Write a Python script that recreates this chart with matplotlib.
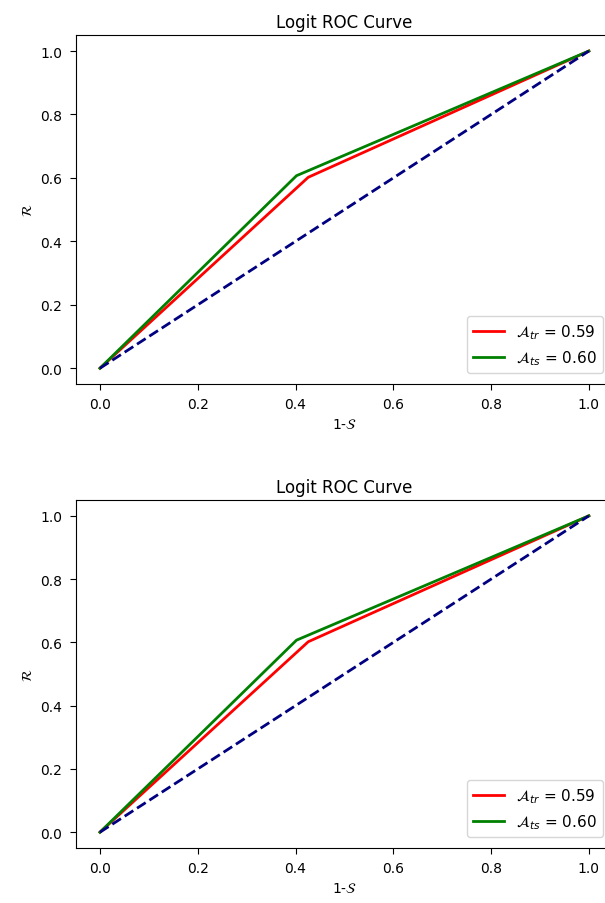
import numpy as np
import matplotlib
matplotlib.use("Agg")
import matplotlib.pyplot as plt

# ROC points (false positive rate, true positive rate) for train and test sets
fpr_train = [0.0, 0.426, 1.0]
tpr_train = [0.0, 0.602, 1.0]
fpr_test = [0.0, 0.402, 1.0]
tpr_test = [0.0, 0.607, 1.0]
chance = [0.0, 1.0]

ticks = [0.0, 0.2, 0.4, 0.6, 0.8, 1.0]


def auc(x, y):
    x = np.asarray(x)
    y = np.asarray(y)
    return float(np.sum((x[1:] - x[:-1]) * (y[1:] + y[:-1]) / 2))


plt.rcParams["xtick.major.size"] = 4
plt.rcParams["ytick.major.size"] = 4
plt.rcParams["xtick.major.pad"] = 5.5
plt.rcParams["ytick.major.pad"] = 5.5

fig = plt.figure(figsize=(6.05, 9.04), dpi=100)
positions = [
    [0.1248, 0.574, 0.889, 0.386],
    [0.1248, 0.0608, 0.889, 0.385],
]

for pos in positions:
    ax = fig.add_axes(pos)
    ax.plot(fpr_train, tpr_train, color="red", lw=2,
            label=r"$\mathcal{A}_{tr}$ = %0.2f" % auc(fpr_train, tpr_train))
    ax.plot(fpr_test, tpr_test, color="green", lw=2,
            label=r"$\mathcal{A}_{ts}$ = %0.2f" % auc(fpr_test, tpr_test))
    ax.plot(chance, chance, color="navy", lw=2, linestyle="--")
    ax.set_xlim(-0.05, 1.05)
    ax.set_ylim(-0.05, 1.05)
    ax.set_xticks(ticks)
    ax.set_yticks(ticks)
    ax.set_xlabel(r"1-$\mathcal{S}$")
    ax.set_ylabel(r"$\mathcal{R}$")
    ax.set_title("Logit ROC Curve")
    ax.legend(loc="lower right", fontsize=11, borderaxespad=0.7)

fig.savefig("out.png", dpi=100)
